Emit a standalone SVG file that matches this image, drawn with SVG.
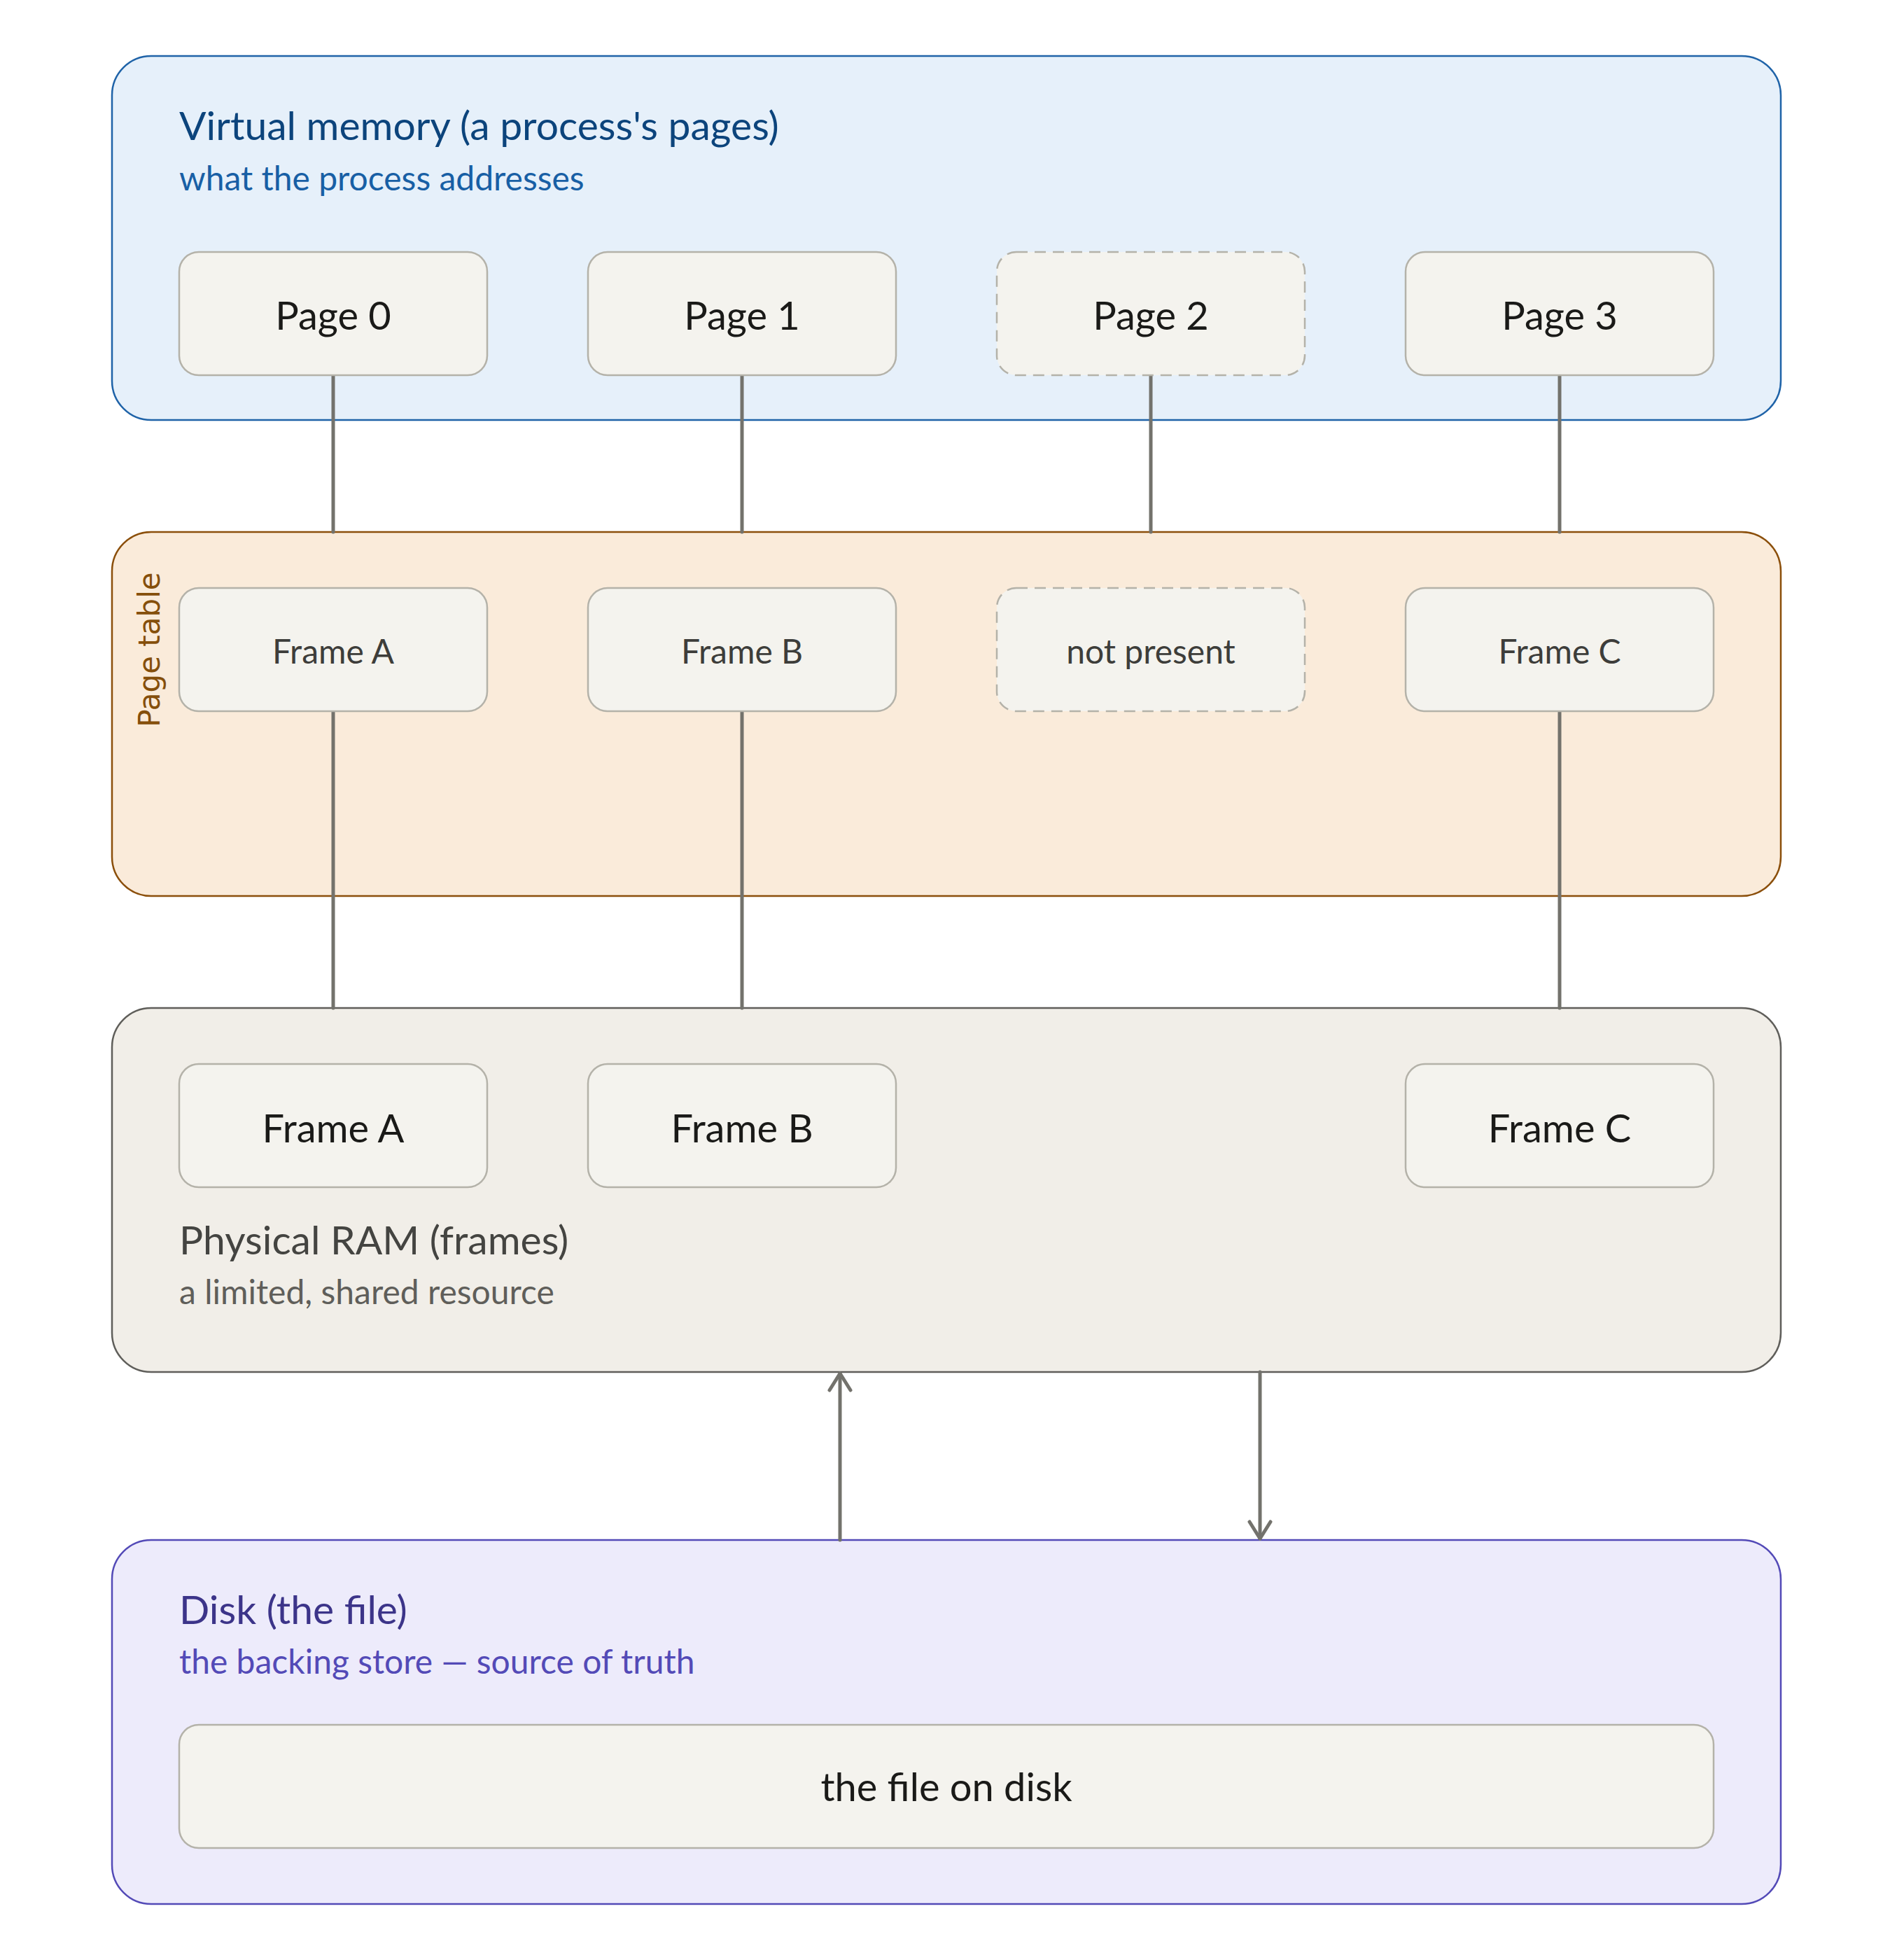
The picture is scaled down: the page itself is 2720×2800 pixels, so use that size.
<svg xmlns="http://www.w3.org/2000/svg" width="2720" height="2800" viewBox="0 0 2720 2800">
<defs>
<style>
.c-virt{fill:#E6F0FA;stroke:#1F63A8;stroke-width:2.5}
.c-pt{fill:#FAEBDA;stroke:#8B4F0B;stroke-width:2.5}
.c-ram{fill:#F1EEE8;stroke:#5F5E5A;stroke-width:2.5}
.c-disk{fill:#EDEBFB;stroke:#534AB7;stroke-width:2.5}
.node{fill:#F4F3EE;stroke:#B4B2A9;stroke-width:2.5}
.dash{stroke-dasharray:16 10}
.t{font-family:Lato,"Noto Sans",sans-serif}
.title{font-size:57px}
.sub{font-size:48px}
.lbl{font-size:56px;fill:#1A1A18;text-anchor:middle}
.lbl2{font-size:48px;fill:#3D3D3A;text-anchor:middle}
.conn{stroke:#73726C;stroke-width:5;fill:none;stroke-linecap:round}
</style>
<marker id="arr" viewBox="0 0 30 36" refX="27" refY="18" markerWidth="30" markerHeight="36" markerUnits="userSpaceOnUse" orient="auto">
<path d="M3 3 L27 18 L3 33" fill="none" stroke="#73726C" stroke-width="5" stroke-linecap="round" stroke-linejoin="round"/>
</marker>
</defs>
<rect width="2720" height="2800" fill="#FFFFFF"/>

<g id="virtual-memory">
<rect class="c-virt" x="160" y="80" width="2384" height="520" rx="56"/>
<text class="t title" x="256" y="200" fill="#0C447C">Virtual memory (a process's pages)</text>
<text class="t sub" x="256" y="272" fill="#185FA5">what the process addresses</text>
</g>

<g id="page-table">
<rect class="c-pt" x="160" y="760" width="2384" height="520" rx="56"/>
<text x="228" y="928" transform="rotate(-90 228 928)" text-anchor="middle" font-family="'DejaVu Sans',sans-serif" font-size="42" fill="#854F0B">Page table</text>
</g>

<g id="physical-ram">
<rect class="c-ram" x="160" y="1440" width="2384" height="520" rx="56"/>
<text class="t title" x="256" y="1792" fill="#444441">Physical RAM (frames)</text>
<text class="t sub" x="256" y="1863" fill="#5F5E5A">a limited, shared resource</text>
</g>

<g id="disk">
<rect class="c-disk" x="160" y="2200" width="2384" height="520" rx="56"/>
<text class="t title" x="256" y="2320" fill="#3C3489">Disk (the file)</text>
<text class="t sub" x="256" y="2391" fill="#534AB7">the backing store — source of truth</text>
</g>

<g id="connectors">
<line class="conn" x1="476" y1="536" x2="476" y2="760"/>
<line class="conn" x1="1060" y1="536" x2="1060" y2="760"/>
<line class="conn" x1="1644" y1="536" x2="1644" y2="760"/>
<line class="conn" x1="2228" y1="536" x2="2228" y2="760"/>
<line class="conn" x1="476" y1="1016" x2="476" y2="1440"/>
<line class="conn" x1="1060" y1="1016" x2="1060" y2="1440"/>
<line class="conn" x1="2228" y1="1016" x2="2228" y2="1440"/>
<line class="conn" x1="1200" y1="2200" x2="1200" y2="1962" marker-end="url(#arr)"/>
<line class="conn" x1="1800" y1="1960" x2="1800" y2="2198" marker-end="url(#arr)"/>
</g>

<g id="page-0"><rect class="node" x="256" y="360" width="440" height="176" rx="28"/><text class="t lbl" x="476" y="471">Page 0</text></g>
<g id="page-1"><rect class="node" x="840" y="360" width="440" height="176" rx="28"/><text class="t lbl" x="1060" y="471">Page 1</text></g>
<g id="page-2"><rect class="node dash" x="1424" y="360" width="440" height="176" rx="28"/><text class="t lbl" x="1644" y="471">Page 2</text></g>
<g id="page-3"><rect class="node" x="2008" y="360" width="440" height="176" rx="28"/><text class="t lbl" x="2228" y="471">Page 3</text></g>

<g id="pt-frame-a"><rect class="node" x="256" y="840" width="440" height="176" rx="28"/><text class="t lbl2" x="476" y="948">Frame A</text></g>
<g id="pt-frame-b"><rect class="node" x="840" y="840" width="440" height="176" rx="28"/><text class="t lbl2" x="1060" y="948">Frame B</text></g>
<g id="pt-not-present"><rect class="node dash" x="1424" y="840" width="440" height="176" rx="28"/><text class="t lbl2" x="1644" y="948">not present</text></g>
<g id="pt-frame-c"><rect class="node" x="2008" y="840" width="440" height="176" rx="28"/><text class="t lbl2" x="2228" y="948">Frame C</text></g>

<g id="ram-frame-a"><rect class="node" x="256" y="1520" width="440" height="176" rx="28"/><text class="t lbl" x="476" y="1632">Frame A</text></g>
<g id="ram-frame-b"><rect class="node" x="840" y="1520" width="440" height="176" rx="28"/><text class="t lbl" x="1060" y="1632">Frame B</text></g>
<g id="ram-frame-c"><rect class="node" x="2008" y="1520" width="440" height="176" rx="28"/><text class="t lbl" x="2228" y="1632">Frame C</text></g>

<g id="file-on-disk"><rect class="node" x="256" y="2464" width="2192" height="176" rx="28"/><text class="t lbl" x="1352" y="2573">the file on disk</text></g>
</svg>
